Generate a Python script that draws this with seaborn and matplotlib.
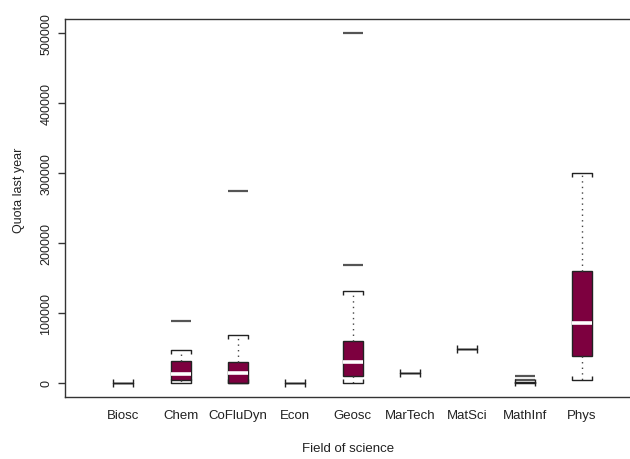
import numpy as np
import pandas as pd
import matplotlib
matplotlib.use("Agg")
import matplotlib.pyplot as plt
import seaborn as sns
from matplotlib.lines import TICKUP, TICKDOWN

# Fields of science, in axis order
fields = ["Biosc", "Chem", "CoFluDyn", "Econ", "Geosc",
          "MarTech", "MatSci", "MathInf", "Phys"]

# Quota used last year by the projects of each field
quota_biosc = [0]
quota_chem = [0, 2000, 4500, 8000, 12500, 20000, 31000, 47000, 89000]
quota_cofludyn = [0, 0, 0, 8000, 15000, 22000, 30000, 69000, 275000]
quota_econ = [0]
quota_geosc = [0, 2000, 5000, 10000, 15000, 22000, 30000, 38000, 50000,
               60000, 131000, 169000, 500000]
quota_martech = [15000]
quota_matsci = [49000]
quota_mathinf = [0, 0, 0, 0, 0, 0, 4500, 10500]
quota_phys = [4000, 38000, 86000, 160000, 300000]

y_ticks = [0, 100000, 200000, 300000, 400000, 500000]
y_tick_labels = [str(v) for v in y_ticks]

quotas = [quota_biosc, quota_chem, quota_cofludyn, quota_econ, quota_geosc,
          quota_martech, quota_matsci, quota_mathinf, quota_phys]
df = pd.DataFrame({
    "field": [f for f, q in zip(fields, quotas) for _ in q],
    "quota": [v for q in quotas for v in q],
})

sns.set_style("white")
plt.rcParams["font.family"] = ["Liberation Sans", "DejaVu Sans"]
plt.rcParams["text.color"] = "#222222"
plt.rcParams["axes.labelcolor"] = "#222222"
plt.rcParams["xtick.color"] = "#222222"
plt.rcParams["ytick.color"] = "#222222"

box_color = "#7d003f"
line_color = "#222222"

fig = plt.figure(figsize=(6.3, 4.6), dpi=100)
ax = fig.add_axes([65 / 630, 1 - 398 / 460, (631 - 65) / 630, (398 - 20) / 460])

sns.boxplot(
    data=df, x="field", y="quota", order=fields,
    color=box_color, saturation=1, width=0.35,
    linecolor=line_color, linewidth=1, whis=1.5,
    whiskerprops=dict(linestyle=(0, (1, 3)), color="#444444", linewidth=1),
    capprops=dict(color=line_color, linewidth=1),
    medianprops=dict(color="white", linewidth=2.6),
    flierprops=dict(marker="_", markersize=14.5, markeredgewidth=1.6,
                    markeredgecolor="#555555"),
    ax=ax,
)

# Staples drawn as brackets across the full box width; no median on flat boxes
for cont in ax.containers:
    if not hasattr(cont, "caps"):
        continue
    for i, box in enumerate(cont.boxes):
        box.set_facecolor(box_color)
        verts = box.get_path().vertices
        x0, x1 = verts[:, 0].min(), verts[:, 0].max()
        y0, y1 = verts[:, 1].min(), verts[:, 1].max()
        lo, hi = cont.caps[2 * i], cont.caps[2 * i + 1]
        for cap, mk in ((lo, TICKUP), (hi, TICKDOWN)):
            cap.set_xdata([x0, x1])
            cap.set_marker(mk)
            cap.set_markersize(3)
            cap.set_markeredgecolor(line_color)
            cap.set_markeredgewidth(1)
            cap.set_zorder(3)
        if np.isclose(y0, y1):
            cont.medians[i].set_visible(False)

ax.set_xlim(-1.02, 8.855)
ax.set_ylim(-20000, 520000)
ax.set_yticks(y_ticks)
ax.set_yticklabels(y_tick_labels)
for lbl in ax.get_yticklabels():
    lbl.set_rotation(90)
    lbl.set_va("center")
ax.tick_params(axis="y", length=5, width=1, color="#333333", pad=4, labelsize=9, left=True)
ax.tick_params(axis="x", length=0, pad=9, labelsize=9.5)

ax.set_xlabel("Field of science", fontsize=9.5)
ax.set_ylabel("Quota last year", fontsize=9)
ax.xaxis.set_label_coords(0.5, -0.12)
ax.yaxis.set_label_coords(-0.071, 0.55)

for s in ax.spines.values():
    s.set_color("#333333")
    s.set_linewidth(1)

fig.savefig("out.png", dpi=100)
